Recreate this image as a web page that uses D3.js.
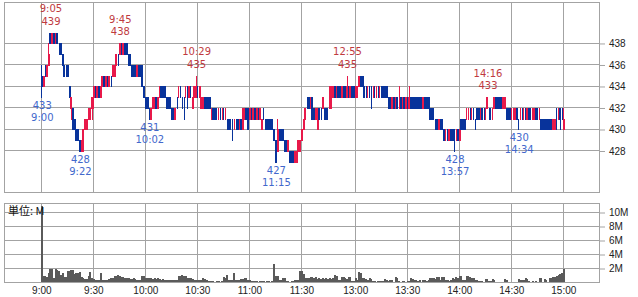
<!DOCTYPE html>
<html>
<head>
<meta charset="utf-8">
<script src="https://cdn.jsdelivr.net/npm/d3@7"></script>
<style>
	body { margin: 0; background: #fff; }
	svg { display: block; font-family: "DejaVu Sans", sans-serif; }
</style>
</head>
<body>
<svg id="chart" width="638" height="297"></svg>
<script>
// axis labels
const timeTicks = ["9:00", "9:30", "10:00", "10:30", "11:00", "11:30", "13:00", "13:30", "14:00", "14:30", "15:00"];
const priceTicks = [428, 430, 432, 434, 436, 438];
const volumeTicks = [2, 4, 6, 8, 10];

// 1 minute candles [open, high, low, close], 9:00 - 11:30
const candlesAM = [
	[435,436,433,434],[434,435,434,435],[435,436,435,435],[435,436,435,436],[436,438,436,437],[439,439,438,438],[438,439,438,439],[439,439,438,438],[438,439,438,439],[439,439,438,438],
	[438,438,437,438],[438,438,437,437],[437,437,436,436],[436,436,435,435],[435,436,435,435],[436,436,435,435],[434,434,433,433],[432,433,431,433],[432,432,430,430],[431,431,430,430],
	[430,430,429,429],[430,430,429,429],[429,429,428,428],[428,429,428,429],[429,430,428,430],[430,431,430,431],[430,431,430,431],[431,432,431,432],[431,432,431,432],[432,433,431,433],
	[433,434,432,434],[434,434,433,433],[433,434,433,434],[434,434,433,433],[433,434,433,434],[434,435,434,435],[435,435,434,434],[434,435,434,435],[435,435,434,434],[434,435,434,435],
	[435,435,434,435],[435,436,435,436],[435,436,435,436],[436,437,436,437],[437,437,436,437],[437,438,437,438],[438,438,437,437],[437,438,437,438],[438,438,437,437],[438,438,437,437],
	[437,437,436,436],[436,437,436,436],[436,436,435,435],[435,436,435,435],[436,436,435,435],[435,436,435,436],[436,436,435,435],[435,436,435,435],[436,436,434,434],[434,434,433,433],
	[433,433,432,432],[433,433,432,432],[432,432,431,432],[431,432,431,432],[432,433,432,433],[432,433,432,433],[433,433,432,432],[432,433,432,433],[433,434,433,434],[434,434,433,433],
	[434,434,433,433],[434,434,433,433],[433,433,432,432],[433,433,432,432],[433,433,432,432],[432,432,431,431],[432,432,431,431],[431,432,431,432],[432,433,432,432],[433,434,433,433],
	[433,434,433,433],[433,433,432,433],[432,433,431,432],[433,434,433,433],[433,434,432,433],[433,434,433,434],[434,434,433,434],[432,433,432,433],[433,434,433,434],[433,435,433,434],
	[434,434,433,434],[433,434,433,434],[432,433,432,433],[432,433,432,433],[433,433,432,432],[433,433,432,432],[433,433,432,432],[433,433,432,432],[431,432,431,432],[432,432,431,431],
	[432,432,431,431],[431,432,431,431],[432,432,431,432],[431,432,431,431],[432,432,431,432],[431,432,431,431],[432,432,431,432],[431,431,430,431],[431,431,430,430],[430,431,430,430],
	[430,431,429,430],[431,431,430,431],[430,431,430,430],[431,431,430,430],[430,431,430,431],[431,431,430,430],[430,432,430,432],[431,432,431,432],[432,432,431,431],[432,432,430,430],
	[431,432,431,432],[432,432,431,431],[431,432,431,432],[432,432,431,431],[431,432,431,432],[432,432,431,431],[431,432,431,432],[430,431,430,431],[431,432,431,431],[431,431,430,431],
	[431,431,430,430],[431,431,430,430],[430,431,430,430],[431,431,430,430],[430,430,429,429],[429,429,427,427],[428,431,428,430],[430,430,429,430],[430,430,429,429],[430,430,429,429],
	[429,429,428,429],[429,429,428,428],[428,429,428,429],[428,428,427,427],[428,428,427,427],[428,428,427,427],[427,428,427,428],[427,428,427,428],[428,429,428,429],[428,429,428,429],
	[429,430,429,430]
];

// 1 minute candles [open, high, low, close], 12:30 - 15:00
const candlesPM = [
	[430,431,430,431],[431,432,431,432],[432,433,432,432],[433,433,432,432],[432,433,432,433],[433,433,431,431],[432,432,431,431],[431,432,431,432],[430,432,430,432],[432,432,431,431],
	[431,432,431,431],[432,433,432,433],[432,432,431,432],[432,432,431,431],[431,432,431,431],[432,434,432,433],[433,434,432,434],[433,434,433,434],[434,434,433,433],[433,434,433,434],
	[434,434,433,433],[434,434,433,433],[433,434,433,434],[434,434,433,433],[434,434,433,433],[433,435,433,434],[434,434,433,433],[433,434,433,434],[434,434,433,433],[434,434,433,433],
	[433,434,433,434],[433,434,433,434],[434,435,434,435],[435,435,434,434],[435,435,434,434],[434,434,433,433],[433,434,433,433],[434,434,433,434],[433,434,433,433],[433,434,432,433],
	[434,434,433,434],[433,434,433,433],[434,434,433,434],[433,434,433,433],[434,434,433,434],[433,434,433,433],[434,434,433,433],[434,434,433,433],[434,434,433,433],[433,433,432,433],
	[433,433,432,432],[432,433,432,433],[433,433,432,432],[432,433,432,433],[433,433,432,432],[433,434,432,433],[433,433,432,432],[432,433,432,433],[433,433,432,432],[432,433,432,433],
	[433,433,432,432],[432,434,432,433],[433,433,432,432],[433,433,432,432],[433,433,432,432],[433,433,432,432],[433,433,432,432],[433,433,432,432],[433,433,432,432],[432,433,432,433],
	[433,433,432,432],[433,433,432,432],[433,433,432,432],[432,432,431,431],[432,432,431,431],[431,432,431,431],[431,431,430,431],[431,431,430,430],[430,431,430,431],[431,431,430,430],
	[430,431,430,430],[430,430,429,429],[430,430,429,430],[430,430,429,429],[429,430,429,430],[430,430,429,429],[430,430,429,429],[429,430,428,429],[430,430,429,430],[430,430,429,429],
	[429,430,429,430],[431,431,430,430],[431,431,430,430],[431,431,430,430],[431,432,431,431],[432,432,431,432],[431,432,431,431],[432,432,431,432],[431,432,431,431],[431,431,430,431],
	[432,432,431,431],[432,432,431,431],[431,432,431,432],[432,432,431,431],[431,432,431,431],[432,432,431,432],[432,433,432,433],[432,432,431,432],[431,432,431,431],[432,432,431,432],
	[432,433,432,433],[433,433,432,432],[433,433,432,432],[433,433,432,432],[433,433,432,432],[432,433,432,433],[432,433,432,433],[432,432,431,431],[432,432,431,431],[432,432,431,431],
	[432,432,431,432],[431,432,431,432],[431,432,431,432],[432,432,431,431],[431,431,430,431],[432,432,431,432],[431,432,431,431],[432,432,431,432],[431,432,431,431],[431,432,431,432],
	[432,432,431,431],[431,432,431,431],[432,432,431,432],[431,432,431,432],[432,432,431,431],[431,432,431,431],[432,432,431,432],[431,431,430,430],[431,431,430,430],[431,431,430,430],
	[431,431,430,430],[431,431,430,430],[431,431,430,430],[431,431,430,430],[430,431,430,431],[430,431,430,431],[431,432,430,431],[431,432,431,432],[432,432,430,431],[431,432,431,431],
	[430,432,430,431]
];

// volume per minute, millions of shares
const volumeAM = [
	11.0,0.9,1.0,0.8,1.4,2.0,1.9,0.7,1.9,1.8,
	1.7,1.1,1.3,0.8,0.8,1.6,1.7,1.8,1.8,1.2,
	1.3,1.4,1.5,0.8,0.7,0.5,0.5,1.0,1.5,0.6,
	0.5,0.4,0.3,0.3,1.4,0.4,0.3,0.3,0.3,0.5,
	0.6,0.6,1.0,1.0,1.1,1.0,0.8,0.8,0.6,0.6,
	0.7,0.5,0.5,0.6,0.5,0.4,0.4,0.4,1.0,0.9,
	0.6,0.6,0.7,0.6,0.5,0.6,0.5,0.7,0.5,0.4,
	0.5,0.4,0.3,0.3,0.4,0.3,0.3,0.3,0.4,0.9,
	0.9,1.1,1.0,1.0,0.6,0.7,0.6,0.5,0.3,0.3,
	0.4,0.3,0.3,0.6,0.5,0.3,0.2,0.2,0.2,0.2,
	0.1,0.2,0.2,0.1,0.2,0.8,0.7,1.1,0.3,0.3,
	0.3,1.3,0.3,0.3,0.3,0.5,0.5,0.6,0.7,0.3,
	0.3,0.2,0.2,0.2,0.2,0.1,0.2,0.2,0.2,0.1,
	0.2,0.2,0.1,0.2,2.6,1.0,0.9,0.3,0.3,0.6,
	0.6,0.2,0.2,0.1,0.2,0.2,0.3,0.3,0.3,1.6,
	1.6
];
const volumePM = [
	1.2,0.7,0.6,0.7,0.8,0.8,0.7,0.8,0.5,0.6,
	0.5,0.6,0.5,0.6,0.5,0.6,0.5,0.6,1.1,1.0,
	0.3,0.3,0.8,0.8,0.6,0.5,0.8,0.8,0.2,0.2,
	0.6,0.3,1.5,1.4,0.7,0.6,0.5,0.4,0.6,0.5,
	0.2,0.2,0.1,0.2,0.2,0.2,0.2,0.5,0.4,0.2,
	0.3,0.3,0.1,0.8,0.7,0.2,0.1,0.2,0.2,0.1,
	0.2,0.2,0.6,0.5,0.3,0.3,0.2,0.3,0.1,0.3,
	0.3,0.2,0.3,0.7,0.6,0.6,0.5,0.8,0.8,0.3,
	0.8,0.8,0.3,0.3,0.2,0.3,0.6,0.5,0.8,0.7,
	1.0,1.0,0.3,0.3,0.9,0.9,0.8,0.7,0.6,0.3,
	0.3,0.2,0.2,0.2,0.1,0.5,0.5,0.2,0.2,0.5,
	0.4,0.1,0.1,0,0.1,0.1,0.5,0.4,0.1,0.1,
	0.1,0,0.1,0.1,0.5,0.4,0.3,0.3,0.6,0.5,
	0.2,0.1,0.2,0.1,0.2,0.1,0.7,0.6,0.1,0.5,
	0.4,0.1,0.7,0.6,0.8,0.8,1.0,1.1,1.2,1.3,
	2.0
];

// marked highs and lows [time, price]
const highMarks = [["9:05", 439], ["9:45", 438], ["10:29", 435], ["12:55", 435], ["14:16", 433]];
const lowMarks = [["9:00", 433], ["9:22", 428], ["10:02", 431], ["11:15", 427], ["13:57", 428], ["14:34", 430]];

const gridColor = "#a3a3a3";
const upColor = "#e8194a";
const downColor = "#08339b";

// minute slot, the lunch break is squeezed out (11:30 and 12:30 are neighbours)
function timeToIndex(t) {
	const [h, m] = t.split(":").map(Number);
	const mins = h * 60 + m - 540;
	return mins <= 150 ? mins : mins - 59;
}

const svg = d3.select("#chart");
const left = 4, right = 599;
const priceTop = 2.5, priceBottom = 192.5;
const volTop = 203.5, volBottom = 282.5;

const x = d3.scaleLinear().domain([0, 301]).range([41.3, 563.3]);
const yPrice = d3.scaleLinear().domain([424.14, 441.81]).range([priceBottom, priceTop]);
const yVol = d3.scaleLinear().domain([0, (volBottom - volTop) / 7]).range([volBottom, volTop]);

const snap = (v) => Math.round(v) + 0.5;

// panel frames
[[priceTop, priceBottom], [volTop, volBottom]].forEach(([t, b]) => {
	svg.append("rect")
		.attr("x", left + 0.5).attr("y", t)
		.attr("width", right - left).attr("height", b - t)
		.attr("fill", "none").attr("stroke", gridColor);
	// vertical grid
	svg.append("g").selectAll("line")
		.data(timeTicks)
		.enter().append("line")
		.attr("x1", (d) => snap(x(timeToIndex(d))))
		.attr("x2", (d) => snap(x(timeToIndex(d))))
		.attr("y1", t).attr("y2", b)
		.attr("stroke", gridColor);
});

// horizontal grid
svg.append("g").selectAll("line")
	.data(priceTicks)
	.enter().append("line")
	.attr("x1", left).attr("x2", right)
	.attr("y1", (d) => snap(yPrice(d) - 0.5)).attr("y2", (d) => snap(yPrice(d) - 0.5))
	.attr("stroke", gridColor);
svg.append("g").selectAll("line")
	.data(volumeTicks)
	.enter().append("line")
	.attr("x1", left).attr("x2", right)
	.attr("y1", (d) => snap(yVol(d) - 0.5)).attr("y2", (d) => snap(yVol(d) - 0.5))
	.attr("stroke", gridColor);

// right axes
function styleAxis(g) {
	g.select(".domain").remove();
	g.selectAll(".tick line").attr("stroke", gridColor);
	g.selectAll(".tick text").attr("fill", "#222").style("font-size", "10px");
}
svg.append("g")
	.attr("transform", `translate(${right},0)`)
	.call(d3.axisRight(yPrice).tickValues(priceTicks).tickSize(6).tickPadding(4))
	.call(styleAxis);
svg.append("g")
	.attr("transform", `translate(${right},0)`)
	.call(d3.axisRight(yVol).tickValues(volumeTicks).tickSize(6).tickPadding(4).tickFormat((d) => d + "M"))
	.call(styleAxis);

// time axis below the volume panel
svg.append("g")
	.attr("transform", `translate(0,${volBottom})`)
	.call(d3.axisBottom(x).tickValues(timeTicks.map(timeToIndex)).tickSize(0).tickPadding(4)
		.tickFormat((d, i) => timeTicks[i]))
	.call(styleAxis);

// candles
const candles = candlesAM.concat(candlesPM).map((c, i) => ({ i: i, o: c[0], h: c[1], l: c[2], c: c[3] }));
candles.forEach((d, i) => {
	const prev = i > 0 ? candles[i - 1].c : d.o;
	d.color = d.c > d.o ? upColor : d.c < d.o ? downColor : d.c > prev ? upColor : downColor;
});

const candleG = svg.append("g").attr("shape-rendering", "crispEdges");
candleG.selectAll("line")
	.data(candles)
	.enter().append("line")
	.attr("x1", (d) => snap(x(d.i))).attr("x2", (d) => snap(x(d.i)))
	.attr("y1", (d) => Math.round(yPrice(d.h))).attr("y2", (d) => Math.round(yPrice(d.l)) + 1)
	.attr("stroke", (d) => d.color);
candleG.selectAll("rect")
	.data(candles.filter((d) => d.o !== d.c))
	.enter().append("rect")
	.attr("x", (d) => Math.round(x(d.i) - 0.5))
	.attr("width", 2)
	.attr("y", (d) => Math.round(yPrice(Math.max(d.o, d.c))))
	.attr("height", (d) => Math.round(yPrice(Math.min(d.o, d.c))) - Math.round(yPrice(Math.max(d.o, d.c))) + 1)
	.attr("fill", (d) => d.color);

// volume bars
const volumes = volumeAM.concat(volumePM);
svg.append("g").attr("shape-rendering", "crispEdges")
	.selectAll("rect")
	.data(volumes)
	.enter().append("rect")
	.attr("x", (d, i) => Math.round(x(i) - 0.5))
	.attr("width", 2)
	.attr("y", (d) => Math.round(yVol(d)))
	.attr("height", (d) => volBottom - 0.5 - Math.round(yVol(d)))
	.attr("fill", "#5a5a5a");

svg.append("text")
	.attr("x", 8).attr("y", 215)
	.style("font-family", "'Noto Sans CJK JP', sans-serif")
	.style("font-size", "11px")
	.attr("fill", "#111")
	.text("単位: M");

// high / low annotations
const marks = svg.append("g").style("font-size", "10px").attr("text-anchor", "middle");
highMarks.forEach(([t, v]) => {
	const cx = x(timeToIndex(t)) + 1;
	const cy = yPrice(v);
	const txt = marks.append("text").attr("fill", "#c03a3e");
	txt.append("tspan").attr("x", cx).attr("y", cy - 20.5).text(t);
	txt.append("tspan").attr("x", cx).attr("y", cy - 8).text(v);
});
lowMarks.forEach(([t, v]) => {
	const cx = x(timeToIndex(t)) + 1;
	const cy = yPrice(v);
	const txt = marks.append("text").attr("fill", "#4268cc");
	txt.append("tspan").attr("x", cx).attr("y", cy + 12).text(v);
	txt.append("tspan").attr("x", cx).attr("y", cy + 24).text(t);
});
</script>
</body>
</html>
